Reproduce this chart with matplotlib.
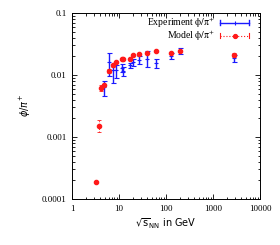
import matplotlib
matplotlib.use("Agg")
import matplotlib.pyplot as plt
import numpy as np
from matplotlib.ticker import LogLocator, FixedFormatter, FixedLocator, NullFormatter
from matplotlib.legend_handler import HandlerBase
from matplotlib.lines import Line2D
from matplotlib.font_manager import FontProperties

# Model phi/pi+
model_x = [3.2, 3.8, 4.2, 4.7, 6.1, 7.4, 8.6, 11.4, 12.4, 17.1, 19.6, 27, 39, 62, 130, 200, 2760]
model_y = [0.00019, 0.0015, 0.0061, 0.0068, 0.0117, 0.0145, 0.0162, 0.0183, 0.018, 0.018, 0.021, 0.0218, 0.0226, 0.024, 0.023, 0.0243, 0.0213]
model_lo = [0, 0.0003, 0.0006, 0, 0.0008, 0.0008, 0, 0, 0, 0, 0, 0, 0, 0, 0, 0, 0.0015]
model_hi = [0, 0.00035, 0.0007, 0, 0.0008, 0.0008, 0, 0, 0, 0, 0, 0, 0, 0, 0, 0, 0.0015]

# Experiment phi/pi+
exp_x = [4.7, 6.1, 7.4, 8.8, 11.5, 12.3, 17.3, 19.6, 27, 39, 62, 130, 200, 2760]
exp_y = [0.0065, 0.016, 0.012, 0.012, 0.013, 0.0116, 0.0143, 0.016, 0.0174, 0.018, 0.0154, 0.0205, 0.0243, 0.0188]
exp_lo = [0.0019, 0.0062, 0.0047, 0.003, 0.002, 0.0018, 0.0013, 0.0022, 0.0025, 0.0045, 0.0025, 0.0022, 0.0025, 0.0025]
exp_hi = [0.0016, 0.0066, 0.003, 0.0026, 0.002, 0.0018, 0.0013, 0.0022, 0.003, 0.006, 0.0025, 0.0024, 0.003, 0.0025]

xticks = [1, 10, 100, 1000, 10000]
xticklabels = ["1", "10", "100", "1000", "10000"]
yticks = [0.0001, 0.001, 0.01, 0.1]
yticklabels = ["0.0001", "0.001", "0.01", "0.1"]

BLUE = "#1a1aff"
RED = "#ff1a1a"


class GnuHandler(HandlerBase):
    def __init__(self, color, ls, marker, ms, lw):
        super().__init__()
        self.color, self.ls, self.marker, self.ms, self.lw = color, ls, marker, ms, lw

    def create_artists(self, legend, orig_handle, xdescent, ydescent, width, height, fontsize, trans):
        y = height / 2 - ydescent
        x0, x1 = -xdescent, width - xdescent
        cap = 1.6
        arts = [Line2D([x0, x1], [y, y], color=self.color, ls=self.ls, lw=self.lw, transform=trans),
                Line2D([x0, x0], [y - cap, y + cap], color=self.color, lw=self.lw, transform=trans),
                Line2D([x1, x1], [y - cap, y + cap], color=self.color, lw=self.lw, transform=trans),
                Line2D([(x0 + x1) / 2], [y], color=self.color, marker=self.marker, ms=self.ms,
                       mew=0.8, ls="none", transform=trans)]
        return arts


fig = plt.figure(figsize=(2.8, 2.45), dpi=100)
ax = fig.add_axes([72/280, 1-199/245, 188/280, 186/245])

ax.set_xscale("log")
ax.set_yscale("log")
ax.set_xlim(1, 10000)
ax.set_ylim(0.0001, 0.1)

e = ax.errorbar(exp_x, exp_y, yerr=[exp_lo, exp_hi], fmt="+", color=BLUE,
                ms=3, mew=0.8, elinewidth=1.0, capsize=1.8, capthick=0.9)
m = ax.errorbar(model_x, model_y, yerr=[model_lo, model_hi], fmt="o", color=RED,
                ms=3.0, elinewidth=0.7, capsize=1.5, capthick=0.6, ls="none")
for bar in m[2]:
    bar.set_linestyle(":")

ax.xaxis.set_major_locator(FixedLocator(xticks))
ax.xaxis.set_major_formatter(FixedFormatter(xticklabels))
ax.yaxis.set_major_locator(FixedLocator(yticks))
ax.yaxis.set_major_formatter(FixedFormatter(yticklabels))
ax.xaxis.set_minor_locator(LogLocator(base=10, subs=np.arange(2, 10), numticks=20))
ax.yaxis.set_minor_locator(LogLocator(base=10, subs=np.arange(2, 10), numticks=20))
ax.xaxis.set_minor_formatter(NullFormatter())
ax.yaxis.set_minor_formatter(NullFormatter())

ax.tick_params(which="both", direction="in", top=True, right=True, width=0.6)
ax.tick_params(which="major", length=3.5, labelsize=6.5, pad=4)
ax.tick_params(which="minor", length=1.8)
for lab in ax.get_xticklabels() + ax.get_yticklabels():
    lab.set_family("Liberation Serif")
for s in ax.spines.values():
    s.set_linewidth(0.7)

ax.set_xlabel(r"$\sqrt{\mathrm{s}}_{\mathrm{NN}}$ in GeV", fontsize=7, labelpad=3)
ax.set_ylabel(r"$\phi/\pi^{+}$", fontsize=7, labelpad=6)

h1 = Line2D([], [])
h2 = Line2D([], [])
legprop = FontProperties(family="Liberation Serif", size=7, math_fontfamily="stix")
leg = ax.legend([h1, h2], [r"Experiment $\mathrm{\phi/\pi^{+}}$", r"Model $\mathrm{\phi/\pi^{+}}$"],
                handler_map={h1: GnuHandler(BLUE, "-", "|", 3, 1.0),
                             h2: GnuHandler(RED, ":", "o", 3.0, 0.8)},
                loc="upper right", bbox_to_anchor=(0.942, 0.985), borderaxespad=0, borderpad=0,
                frameon=False, handlelength=3.0, handletextpad=0.5,
                markerfirst=False, labelspacing=-0.12,
                prop=legprop)

fig.savefig("out.png", dpi=100)
